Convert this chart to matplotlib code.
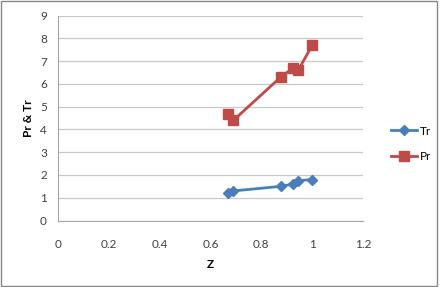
import matplotlib
matplotlib.use('Agg')
import matplotlib.pyplot as plt
from matplotlib.patches import Rectangle

z = [0.67, 0.69, 0.876, 0.925, 0.945, 1.0]
tr = [1.2, 1.3, 1.5, 1.6, 1.75, 1.8]
pr = [4.7, 4.4, 6.3, 6.7, 6.6, 7.7]
xticks = [0, 0.2, 0.4, 0.6, 0.8, 1, 1.2]
yticks = list(range(10))

plt.rcParams['font.family'] = ['Lato', 'DejaVu Sans']

fig = plt.figure(figsize=(4.41, 2.87), dpi=100)
ax = fig.add_axes([58 / 441, 1 - 220.5 / 287, 305 / 441, 204.8 / 287])

ax.plot(z, tr, color='#4A7EBB', lw=2, marker='D', markersize=5, label='Tr')
ax.plot(z, pr, color='#BE4B48', lw=2, marker='s', markersize=6.5, label='Pr')

ax.set_xlim(0, 1.2)
ax.set_ylim(0, 9)
ax.set_xticks(xticks)
ax.set_xticklabels([str(t) for t in xticks])
ax.set_yticks(yticks)
ax.grid(axis='y', color='#C8C8C8', lw=0.9)
ax.set_axisbelow(True)
for s in ['top', 'right']:
    ax.spines[s].set_visible(False)
for s in ['left', 'bottom']:
    ax.spines[s].set_color('#A6A6A6')
ax.tick_params(length=0, labelsize=8.5, colors='#404040', pad=8)
ax.tick_params(axis='x', pad=13)

ax.set_xlabel('Z', fontsize=8.5, fontweight='bold', labelpad=7)
ax.set_ylabel('Pr & Tr', fontsize=8.5, fontweight='bold', labelpad=4)

fig.legend(loc='upper left', bbox_to_anchor=(380 / 441, 1 - 115 / 287),
           frameon=False, fontsize=8.5, handlelength=2.2, labelspacing=1.2,
           handletextpad=0.3)

fig.patches.append(Rectangle((0.002, 0.003), 0.990, 0.993, transform=fig.transFigure,
                             fill=False, edgecolor='#888888', lw=1))

fig.savefig('out.png', dpi=100)
